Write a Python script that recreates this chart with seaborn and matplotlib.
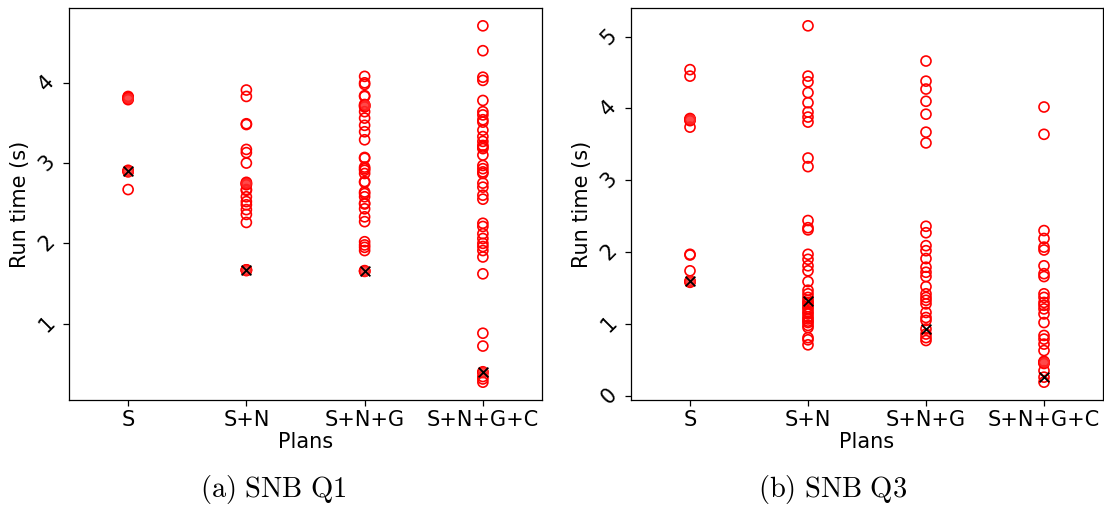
import numpy as np
import pandas as pd
import matplotlib
matplotlib.use("Agg")
import matplotlib.pyplot as plt
import seaborn as sns

plans = ["S", "S+N", "S+N+G", "S+N+G+C"]

# SNB Q1 run times (s)
q1_s = [3.83, 3.82, 3.81, 3.80, 3.79, 2.91, 2.90, 2.89, 2.90, 2.67]
q1_sn = [3.91, 3.83, 3.49, 3.48, 3.17, 3.13, 3.00, 2.76, 2.75, 2.74, 2.73, 2.67,
         2.66, 2.58, 2.52, 2.48, 2.42, 2.36, 2.26, 1.67, 1.66, 1.665, 1.67]
q1_sng = [4.08, 4.00, 3.98, 3.84, 3.83, 3.73, 3.72, 3.71, 3.70, 3.64, 3.56, 3.47,
          3.39, 3.29, 3.07, 3.06, 2.95, 2.93, 2.91, 2.87, 2.77, 2.76, 2.64, 2.62,
          2.58, 2.50, 2.49, 2.43, 2.33, 2.27, 2.02, 1.98, 1.95, 1.91, 1.66, 1.655, 1.65]
q1_sngc = [4.71, 4.40, 4.07, 4.03, 3.78, 3.64, 3.60, 3.54, 3.51, 3.41, 3.33, 3.27,
           3.22, 3.20, 3.18, 3.10, 2.97, 2.93, 2.89, 2.87, 2.75, 2.70, 2.60, 2.55,
           2.25, 2.21, 2.12, 2.06, 2.00, 1.96, 1.91, 1.83, 1.62, 0.88, 0.72, 0.40,
           0.39, 0.34, 0.31, 0.27]
q1_best = [2.90, 1.665, 1.657, 0.397]
# overlapping (solid-looking) points
q1_fill_plans = ["S", "S", "S+N", "S+N", "S+N+G", "S+N+G", "S+N+G+C"]
q1_fill_vals = [3.81, 2.90, 2.75, 1.665, 3.72, 1.657, 0.40]

# SNB Q3 run times (s)
q3_s = [4.54, 4.45, 3.86, 3.85, 3.84, 3.83, 3.74, 1.97, 1.96, 1.74, 1.60, 1.59, 1.58]
q3_sn = [5.15, 4.45, 4.37, 4.22, 4.08, 3.95, 3.88, 3.81, 3.31, 3.19, 2.44, 2.34,
         2.31, 1.97, 1.90, 1.81, 1.74, 1.59, 1.47, 1.42, 1.37, 1.33, 1.30, 1.28,
         1.24, 1.21, 1.17, 1.14, 1.10, 1.07, 1.04, 1.02, 0.98, 0.95, 0.81, 0.78, 0.71]
q3_sng = [4.66, 4.38, 4.27, 4.10, 3.92, 3.67, 3.52, 2.36, 2.27, 2.09, 2.02, 1.91,
          1.79, 1.72, 1.66, 1.52, 1.42, 1.37, 1.33, 1.28, 1.16, 1.09, 1.05, 0.93,
          0.86, 0.81, 0.77]
q3_sngc = [4.02, 3.64, 2.30, 2.19, 2.07, 2.03, 1.81, 1.70, 1.66, 1.42, 1.37, 1.30,
           1.26, 1.21, 1.14, 1.02, 0.84, 0.79, 0.72, 0.63, 0.48, 0.47, 0.46, 0.45,
           0.35, 0.26, 0.19]
q3_best = [1.595, 1.326, 0.93, 0.256]
q3_fill_plans = ["S", "S", "S+N+G+C"]
q3_fill_vals = [3.85, 1.595, 0.465]

q1_ticks = [1, 2, 3, 4]
q3_ticks = [0, 1, 2, 3, 4, 5]
captions = [r"$\mathrm{(a)\ SNB\ Q1}$", r"$\mathrm{(b)\ SNB\ Q3}$"]


def long_df(groups):
    rows = []
    for plan, vals in zip(plans, groups):
        for v in vals:
            rows.append((plan, v))
    return pd.DataFrame(rows, columns=["plan", "time"])


sns.set_style("ticks")
plt.rcParams["font.family"] = ["DejaVu Sans"]
plt.rcParams["mathtext.fontset"] = "cm"
for k in ["text.color", "axes.labelcolor", "xtick.color", "ytick.color", "axes.edgecolor"]:
    plt.rcParams[k] = "black"

fig = plt.figure(figsize=(11.04, 5.17), dpi=100)
W, H = 1104, 517
ax1 = fig.add_axes([69 / W, (H - 400) / H, 473 / W, 392 / H])
ax2 = fig.add_axes([631 / W, (H - 400) / H, 472 / W, 392 / H])

panels = [
    (ax1, [q1_s, q1_sn, q1_sng, q1_sngc], q1_best, q1_ticks, q1_fill_plans, q1_fill_vals),
    (ax2, [q3_s, q3_sn, q3_sng, q3_sngc], q3_best, q3_ticks, q3_fill_plans, q3_fill_vals),
]

for ax, groups, best, ticks, fplans, fvals in panels:
    df = long_df(groups)
    bdf = pd.DataFrame({"plan": plans, "time": best})
    fdf = pd.DataFrame({"plan": fplans, "time": fvals})
    sns.stripplot(data=df, x="plan", y="time", order=plans, jitter=False,
                  color="red", marker="o", size=7.2, linewidth=1.2,
                  edgecolor="red", ax=ax)
    for coll in ax.collections:
        coll.set_facecolor("none")
        coll.set_edgecolor("red")
    n0 = len(ax.collections)
    sns.stripplot(data=fdf, x="plan", y="time", order=plans, jitter=False,
                  color="#ff2a2a", marker="o", size=7.6, linewidth=0, alpha=0.85, ax=ax)
    n1 = len(ax.collections)
    sns.stripplot(data=bdf, x="plan", y="time", order=plans, jitter=False,
                  color="black", marker="x", size=7, linewidth=1.3, ax=ax)
    for coll in ax.collections[n1:]:
        coll.set_edgecolor("black")
        coll.set_facecolor("black")
    ax.set_xlim(-0.5, 3.5)
    ax.set_yticks(ticks)
    ax.set_yticklabels([str(t) for t in ticks], rotation=45,
                       fontsize=15, va="center", ha="right")
    ax.tick_params(axis="x", labelsize=15)
    ax.tick_params(axis="both", colors="black", length=4, width=0.9)
    ax.set_xlabel("Plans", fontsize=15, labelpad=1, color="black")
    ax.set_ylabel("Run time (s)", fontsize=15, color="black")
    for sp in ax.spines.values():
        sp.set_visible(True)
        sp.set_color("black")
        sp.set_linewidth(0.9)

fig.text(273 / W, 1 - 490 / H, captions[0], fontsize=20.5, ha="center", va="center")
fig.text(833 / W, 1 - 490 / H, captions[1], fontsize=20.5, ha="center", va="center")

fig.savefig("out.png", dpi=100)
